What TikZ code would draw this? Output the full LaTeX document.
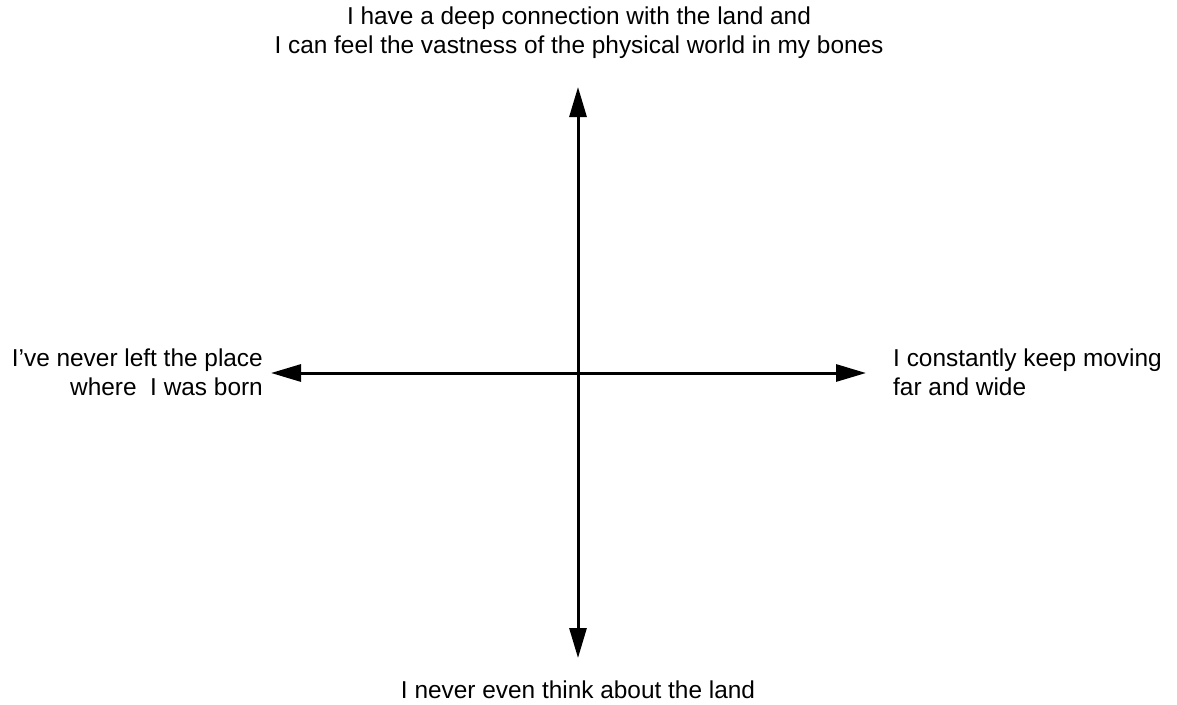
\documentclass[tikz,border=0pt]{standalone}
\usepackage{fontspec}
\setmainfont{Liberation Sans}
\usetikzlibrary{arrows.meta}
\begin{document}
\begin{tikzpicture}[x=1pt,y=-1pt,
  axis/.style={line width=3pt, {Triangle[length=30pt,width=17pt]}-{Triangle[length=30pt,width=17pt]}},
  lbl/.style={font=\fontsize{24.4}{29}\selectfont, inner sep=0pt}]
\useasboundingbox (0,0) rectangle (1177,704);
\coordinate (top) at (578,87);
\coordinate (bot) at (578,658);
\coordinate (lft) at (271,373);
\coordinate (rgt) at (866,373);
\draw[axis] (bot) -- (top);
\draw[axis] (lft) -- (rgt);
\node[lbl, align=center] (t) at (579,33) {I have a deep connection with the land and\\I can feel the vastness of the physical world in my bones};
\node[lbl, align=right, anchor=east] (l) at (263,372) {I’ve never left the place\\where\ \ I was born};
\node[lbl, align=left, anchor=west] (r) at (893,372) {I constantly keep moving\\far and wide};
\node[lbl] (b) at (578,690) {I never even think about the land};
\end{tikzpicture}
\end{document}
